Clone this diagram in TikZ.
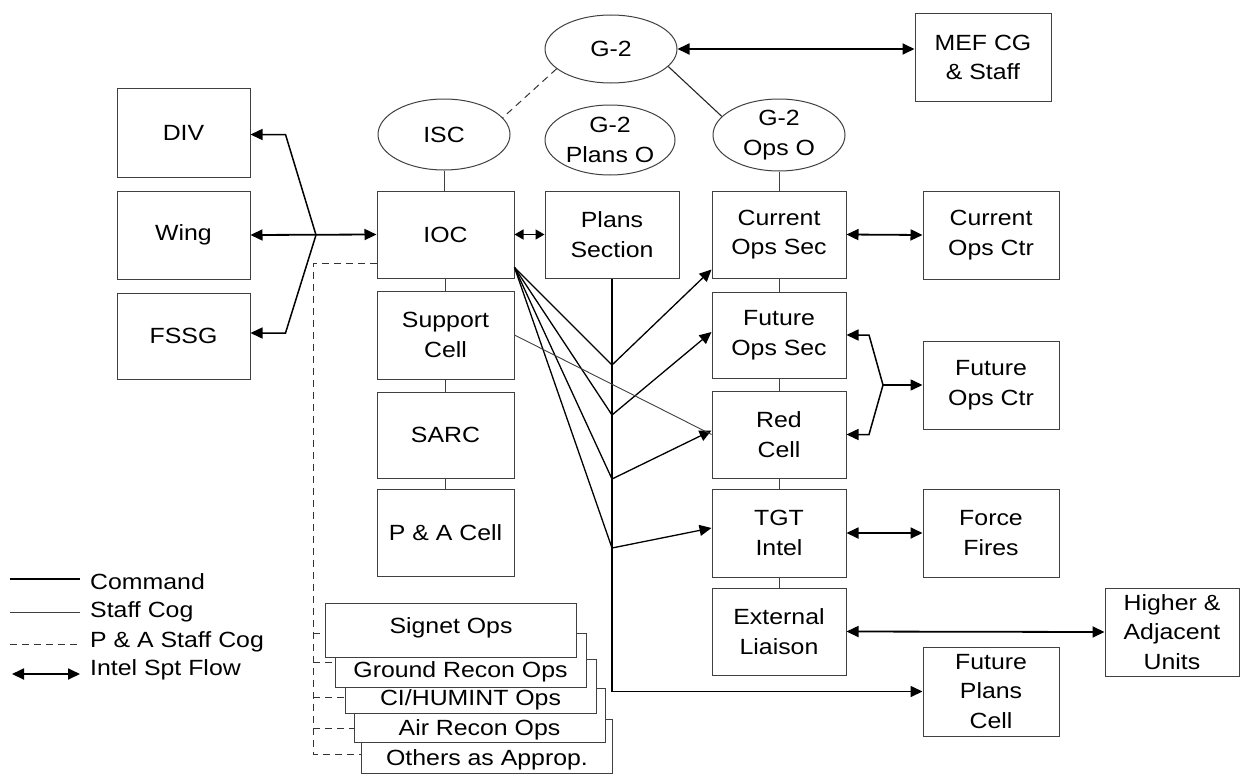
\documentclass[tikz,border=0pt]{standalone}
\usepackage{fontspec}
\setmainfont{Liberation Sans}[FakeStretch=1.13]
\usetikzlibrary{arrows.meta,calc,shapes.geometric}
\newcommand\fs{\fontsize{22}{29.5}\selectfont}
\begin{document}
\begin{tikzpicture}[x=1pt,y=-1pt,
 >={Triangle[length=12pt,width=11pt]},
 box/.style={draw=black!75, line width=1pt, fill=white, minimum width=134pt, minimum height=87pt, inner sep=1pt, align=center, font=\fs},
 oval/.style={draw=black!75, line width=1pt, ellipse, minimum width=132pt, minimum height=70pt, inner sep=0pt},
 olabel/.style={align=center, font=\fs, inner sep=0pt},
 stack/.style={draw=black!75, line width=1pt, fill=white, minimum width=251pt, minimum height=54pt, inner sep=0pt},
 stext/.style={font=\fs, inner sep=0pt},
 cmd/.style={line width=1.3pt},
 staff/.style={line width=0.9pt, black!75},
 pa/.style={line width=1pt, dash pattern=on 7pt off 5pt, black!80},
 flow/.style={line width=1.8pt, <->},
 feed/.style={line width=1.3pt, ->},
 legtext/.style={font=\fs, anchor=west, inner sep=0pt},
]
\fill[white] (0,0) rectangle (1241,776);
\useasboundingbox (0,0) rectangle (1241,776);

% ellipses
\node[oval, minimum height=68pt] (G2) at (611,49) {};
\node[olabel] (G2t) at (G2.center) {G-2};
\node[oval, minimum height=71pt] (ISC) at (444,134.5) {};
\node[olabel] (ISCt) at (ISC.center) {ISC};
\node[oval, minimum width=130pt] (PO) at (610,140) {};
\node[olabel] (POt) at (PO.center) {G-2\\Plans O};
\node[oval, minimum height=72pt] (OO) at (779,135) {};
\node[olabel] (OOt) at (OO.center) {G-2\\Ops O};

% boxes
\node[box, minimum width=136pt] (MEF) at (983,57.5) {MEF CG\\\& Staff};
\node[box, minimum width=133pt, minimum height=89pt] (DIV) at (183.5,132.5) {DIV};
\node[box, minimum width=133pt, minimum height=88pt] (Wing) at (183.5,235) {Wing};
\node[box, minimum width=133pt, minimum height=86pt] (FSSG) at (183.5,336) {FSSG};
\node[box, minimum width=137pt] (IOC) at (445.5,234.5) {IOC};
\node[box, minimum width=137pt, minimum height=88pt] (Sup) at (445.5,335) {Support\\Cell};
\node[box, minimum width=137pt, minimum height=86pt] (SARC) at (445.5,435) {SARC};
\node[box, minimum width=137pt] (PA) at (445.5,532.5) {P \& A Cell};
\node[box] (PS) at (612,234.5) {Plans\\Section};
\node[box] (COS) at (779,234.5) {Current\\Ops Sec};
\node[box, minimum height=86pt] (FOS) at (779,335) {Future\\Ops Sec};
\node[box] (RED) at (779,434.5) {Red\\Cell};
\node[box, minimum height=88pt] (TGT) at (779,533) {TGT\\Intel};
\node[box] (EXT) at (779,631.5) {External\\Liaison};
\node[box, minimum width=136pt, minimum height=88pt] (COC) at (991,235) {Current\\Ops Ctr};
\node[box, minimum width=136pt, minimum height=88pt] (FOC) at (991,385) {Future\\Ops Ctr};
\node[box, minimum width=136pt, minimum height=88pt] (FF) at (991,533) {Force\\Fires};
\node[box, minimum width=136pt, minimum height=89pt] (FPC) at (991,691.5) {Future\\Plans\\Cell};
\node[box, minimum width=134pt, minimum height=88pt] (HAU) at (1172,632) {Higher \&\\Adjacent\\Units};

% stacked boxes (back to front)
\node[stack] (Oth) at (487,746.5) {};
\node[stack] (Air) at (479.5,715.5) {};
\node[stack] (CI) at (470.5,686.5) {};
\node[stack] (Gnd) at (460.5,660) {};
\node[stack] (Sig) at (450.5,630) {};
\node[stext] (Sigt) at (451,628) {Signet Ops};
\node[stext] (Gndt) at (460.5,672) {Ground Recon Ops};
\node[stext] (CIt) at (470.5,700) {CI/HUMINT Ops};
\node[stext] (Airt) at (479.5,730) {Air Recon Ops};
\node[stext] (Otht) at (487,760) {Others as Approp.};

% vertical staff lines
\draw[staff] (ISC.south) -- (ISC.south |- IOC.north);
\draw[staff] (IOC.south) -- (Sup.north);
\draw[staff] (Sup.south) -- (SARC.north);
\draw[staff] (SARC.south) -- (PA.north);
\draw[staff] (OO.south) -- (OO.south |- COS.north);
\draw[staff] (COS.south) -- (FOS.north);
\draw[staff] (FOS.south) -- (RED.north);
\draw[staff] (RED.south) -- (TGT.north);
\draw[staff] (TGT.south) -- (EXT.north);

% G-2 links
\draw[pa] (G2.200) -- (ISC.16);
\draw[line width=1.1pt, black!85] (G2.-17) -- (OO.162);

% intel flows
\draw[flow] (G2.east) -- (G2.east -| MEF.west);
\draw[flow] (Wing.east) -- (IOC.west);
\coordinate (br) at (316,235);
\draw[feed, line width=1.5pt] (br) -- ($(DIV.east)+(35,2)$) -- ($(DIV.east)+(0,2)$);
\draw[feed, line width=1.5pt] (br) -- ($(FSSG.east)+(35,-3)$) -- ($(FSSG.east)+(0,-3)$);
\draw[line width=1.6pt, {Triangle[length=9pt,width=10pt]}-{Triangle[length=9pt,width=10pt]}] (IOC.east) -- (PS.west);
\draw[flow] (COS.east) -- (COC.west);
\draw[flow] (TGT.east) -- (FF.west);
\draw[flow] (EXT.east) -- (HAU.west);

\coordinate (fbr) at (883,385);
\draw[feed, line width=1.5pt] (fbr) -- (869,335) -- (FOS.east);
\draw[feed, line width=1.5pt] (fbr) -- (869,434.5) -- (RED.east);
\draw[feed, line width=1.5pt] (fbr) -- (FOC.west);

% plans section line
\draw[line width=1.6pt, ->] (PS.south) -- (PS.south |- FPC.west) -- (FPC.west);
\coordinate (fan) at ($(IOC.south east)+(0,-11)$);
\coordinate (j1) at (PS.south |- 0,365);
\coordinate (j2) at (PS.south |- 0,415);
\coordinate (j3) at (PS.south |- 0,479);
\coordinate (j4) at (PS.south |- 0,548);
\draw[cmd] (fan) -- (j1);
\draw[cmd] (fan) -- (j2);
\draw[cmd] (fan) -- (j3);
\draw[cmd] (fan) -- (j4);
\draw[feed] (j1) -- ($(COS.west)+(0,35)$);
\draw[feed] (j2) -- ($(FOS.west)+(0,-3)$);
\draw[feed] (j3) -- ($(RED.west)+(0,-4)$);
\draw[feed] (j4) -- ($(TGT.west)+(0,-5)$);
\draw[staff] (Sup.east) -- (RED.west);

% P & A dashed
\coordinate (dv) at (313,263);
\coordinate (dvb) at (313,754);
\draw[pa] (IOC.west |- dv) -- (dv) -- (dvb) -- ($(Oth.west)+(0,7.5)$);
\draw[pa] (dv |- Sig.west) ++(0,3) -- ($(Sig.west)+(0,3)$);
\draw[pa] (dv |- Gnd.west) ++(0,2) -- ($(Gnd.west)+(0,2)$);
\draw[pa] (dv |- CI.west) ++(0,10.5) -- ($(CI.west)+(0,10.5)$);
\draw[pa] (dv |- Air.west) ++(0,12.5) -- ($(Air.west)+(0,12.5)$);

% legend
\coordinate (l1a) at (10,579); \coordinate (l1b) at (80,579);
\coordinate (l2a) at (10,612); \coordinate (l2b) at (80,612);
\coordinate (l3a) at (10,644); \coordinate (l3b) at (80,644);
\coordinate (l4a) at (12,674); \coordinate (l4b) at (80,674);
\draw[line width=1.4pt] (l1a) -- (l1b);
\draw[staff] (l2a) -- (l2b);
\draw[pa] (l3a) -- (l3b);
\draw[flow] (l4a) -- (l4b);
\node[legtext] (t1) at (90,582) {Command};
\node[legtext] (t2) at (90,612) {Staff Cog};
\node[legtext] (t3) at (90,642) {P \& A Staff Cog};
\node[legtext] (t4) at (90,670) {Intel Spt Flow};
\end{tikzpicture}
\end{document}
